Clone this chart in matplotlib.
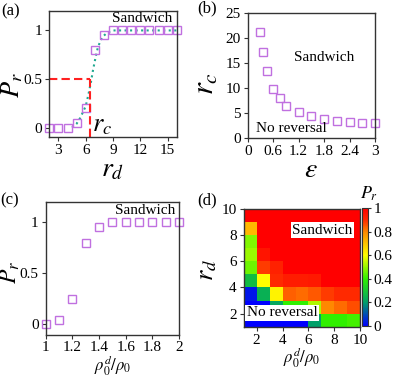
import numpy as np
import matplotlib
matplotlib.use("Agg")
import matplotlib.pyplot as plt
from matplotlib.colors import LinearSegmentedColormap

plt.rcParams['font.family'] = ['Liberation Serif', 'DejaVu Serif']
plt.rcParams['mathtext.fontset'] = 'stix'

# ---- data ----
# (a)
a_rd = [2, 3, 4, 5, 6, 7, 8, 9, 10, 11, 12, 13, 14, 15, 16]
a_pr = [0, 0, 0, 0.05, 0.2, 0.8, 0.95, 1, 1, 1, 1, 1, 1, 1, 1]
a_fit_x = [4.5, 5.0, 5.4, 6.0, 6.3, 6.6, 6.8, 7.1, 7.35, 7.8, 8.4, 9, 10, 11, 12, 13, 14, 15, 16]
a_fit_y = [0.0, 0.04, 0.1, 0.22, 0.34, 0.48, 0.59, 0.73, 0.83, 0.93, 0.98, 1, 1, 1, 1, 1, 1, 1, 1]
a_rc = 6.5
# (b)
b_eps = [0.3, 0.35, 0.45, 0.6, 0.75, 0.9, 1.2, 1.5, 1.8, 2.1, 2.4, 2.7, 3.0]
b_rc = [21.2, 17.2, 13.4, 9.8, 8.0, 6.5, 5.2, 4.4, 3.9, 3.45, 3.25, 3.15, 3.0]
# (c)
c_rho = [1.0, 1.1, 1.2, 1.3, 1.4, 1.5, 1.6, 1.7, 1.8, 1.9, 2.0]
c_pr = [0, 0.045, 0.25, 0.8, 0.95, 1, 1, 1, 1, 1, 1]
# (d) rows: r_d = 1..9 (bottom to top), cols: rho = 1..9
d_x_edges = [1, 2, 3, 4, 5, 6, 7, 8, 9, 10]
d_y_edges = [1, 2, 3, 4, 5, 6, 7, 8, 9, 10]
d_pr = [
    [0.0, 0.0, 0.0, 0.0, 0.0, 0.2, 0.4, 0.4, 0.42],
    [0.0, 0.0, 0.22, 0.4, 0.4, 0.52, 0.8, 0.83, 0.86],
    [0.03, 0.24, 0.62, 0.84, 0.83, 0.85, 0.88, 0.9, 0.9],
    [0.27, 0.6, 0.9, 0.93, 0.93, 0.94, 1.0, 1.0, 1.0],
    [0.46, 0.88, 0.92, 1.0, 1.0, 1.0, 1.0, 1.0, 1.0],
    [0.5, 0.95, 1.0, 1.0, 1.0, 1.0, 1.0, 1.0, 1.0],
    [0.48, 1.0, 1.0, 1.0, 1.0, 1.0, 1.0, 1.0, 1.0],
    [0.72, 1.0, 1.0, 1.0, 1.0, 1.0, 1.0, 1.0, 1.0],
    [1.0, 1.0, 1.0, 1.0, 1.0, 1.0, 1.0, 1.0, 1.0],
]

mcol = '#c070e0'
fitcol = '#20a890'
spc = '#333333'
tfs = 11

fig = plt.figure(figsize=(3.96, 3.77), dpi=100)
W, H = 396, 377

def add_ax(l, r, t, b):
    return fig.add_axes([l / W, (H - b) / H, (r - l) / W, (b - t) / H])

def style(ax):
    for s in ax.spines.values():
        s.set_color(spc)
        s.set_linewidth(1.0)
    ax.tick_params(direction='out', length=3, width=0.8, colors=spc,
                   labelcolor='black', labelsize=tfs, pad=2,
                   top=False, right=False)

# (a)
ax = add_ax(49.3, 176.7, 11, 137.3)
style(ax)
ax.plot(a_fit_x, a_fit_y, linestyle=':', color=fitcol, lw=1.5)
ax.plot(a_rd, a_pr, 's', mfc='none', mec=mcol, ms=6, mew=1.0, clip_on=False)
ax.plot([2, a_rc], [0.5, 0.5], '--', color='#ff2020', lw=1.5, dashes=(4, 2))
ax.plot([a_rc, a_rc], [-0.1, 0.5], '--', color='#ff2020', lw=1.5, dashes=(4, 2))
ax.set_xlim(2, 16)
ax.set_ylim(-0.1, 1.2)
ax.set_xticks([3, 6, 9, 12, 15])
ax.set_yticks([0, 0.5, 1])
ax.set_yticklabels(['0', '0.5', '1'])
ax.text(6.7, 0.02, r'$r_c$', fontsize=19, ha='left', va='center')
ax.text(12.2, 1.126, 'Sandwich', fontsize=11, ha='center', va='center')
ax.set_xlabel(r'$r_d$', fontsize=20, labelpad=0)
ax.set_ylabel(r'$P_r$', fontsize=19)
ax.yaxis.set_label_coords(-0.19, 0.41)
fig.text(11 / W, 1 - 11 / H, '(a)', fontsize=12, ha='center', va='center')

# (b)
ax = add_ax(247.7, 375, 13.3, 138.3)
style(ax)
ax.plot(b_eps, b_rc, 's', mfc='none', mec=mcol, ms=6, mew=1.0, clip_on=False)
ax.set_xlim(0, 3)
ax.set_ylim(0, 25)
ax.set_xticks([0, 0.6, 1.2, 1.8, 2.4, 3])
ax.set_xticklabels(['0', '0.6', '1.2', '1.8', '2.4', '3'])
ax.set_yticks([0, 5, 10, 15, 20, 25])
ax.text(1.81, 16.2, 'Sandwich', fontsize=11, ha='center', va='center')
ax.text(1.03, 1.9, 'No reversal', fontsize=11, ha='center', va='center')
ax.set_xlabel(r'$\epsilon$', fontsize=20, labelpad=0)
ax.set_ylabel(r'$r_c$', fontsize=22)
ax.yaxis.set_label_coords(-0.21, 0.44)
fig.text(207 / W, 1 - 8 / H, '(b)', fontsize=12, ha='center', va='center')

# (c)
ax = add_ax(45.7, 179, 201.7, 334.5)
style(ax)
ax.plot(c_rho, c_pr, 's', mfc='none', mec=mcol, ms=6, mew=1.0, clip_on=False)
ax.set_xlim(1, 2)
ax.set_ylim(-0.1, 1.2)
ax.set_xticks([1, 1.2, 1.4, 1.6, 1.8, 2])
ax.set_xticklabels(['1', '1.2', '1.4', '1.6', '1.8', '2'])
ax.set_yticks([0, 0.5, 1])
ax.set_yticklabels(['0', '0.5', '1'])
ax.text(1.743, 1.11, 'Sandwich', fontsize=11, ha='center', va='center')
ax.set_xlabel(r'$\rho_0^d/\rho_0$', fontsize=12, labelpad=-0.5)
ax.set_ylabel(r'$P_r$', fontsize=17)
ax.yaxis.set_label_coords(-0.18, 0.47)
fig.text(10 / W, 1 - 200 / H, '(c)', fontsize=12, ha='center', va='center')

# (d)
cmap = LinearSegmentedColormap.from_list('pr', [
    (0.0, '#0000ff'), (0.2, '#00a068'), (0.4, '#30f000'),
    (0.6, '#ffff00'), (0.8, '#ff8800'), (0.9, '#ff2a00'), (1.0, '#ff0000')])
ax = add_ax(243.7, 360.3, 209, 326.7)
style(ax)
mesh = ax.pcolormesh(d_x_edges, d_y_edges, np.array(d_pr), cmap=cmap, vmin=0, vmax=1)
ax.set_xlim(1, 10)
ax.set_ylim(1, 10)
ax.set_xticks([2, 4, 6, 8, 10])
ax.set_yticks([2, 4, 6, 8, 10])
bb = dict(facecolor='white', edgecolor='none', pad=1.0)
ax.text(7.08, 8.39, 'Sandwich', fontsize=11, ha='center', va='center', bbox=bb)
ax.text(3.95, 2.07, 'No reversal', fontsize=11, ha='center', va='center', bbox=bb)
ax.set_xlabel(r'$\rho_0^d/\rho_0$', fontsize=12, labelpad=-0.5)
ax.set_ylabel(r'$r_d$', fontsize=19)
ax.yaxis.set_label_coords(-0.21, 0.48)
fig.text(207 / W, 1 - 200 / H, '(d)', fontsize=12, ha='center', va='center')

cax = add_ax(362.3, 368.3, 208, 326)
cb = fig.colorbar(mesh, cax=cax)
cb.set_ticks([0, 0.2, 0.4, 0.6, 0.8, 1])
cb.set_ticklabels(['0', '0.2', '0.4', '0.6', '0.8', '1'])
cb.outline.set_edgecolor(spc)
cb.outline.set_linewidth(0.8)
cax.tick_params(direction='out', length=2, width=0.8, labelsize=tfs, pad=2, colors=spc, labelcolor='black')
fig.text(369 / W, 1 - 194 / H, r'$P_r$', fontsize=13, ha='center', va='center')

fig.savefig('out.png', dpi=100)
